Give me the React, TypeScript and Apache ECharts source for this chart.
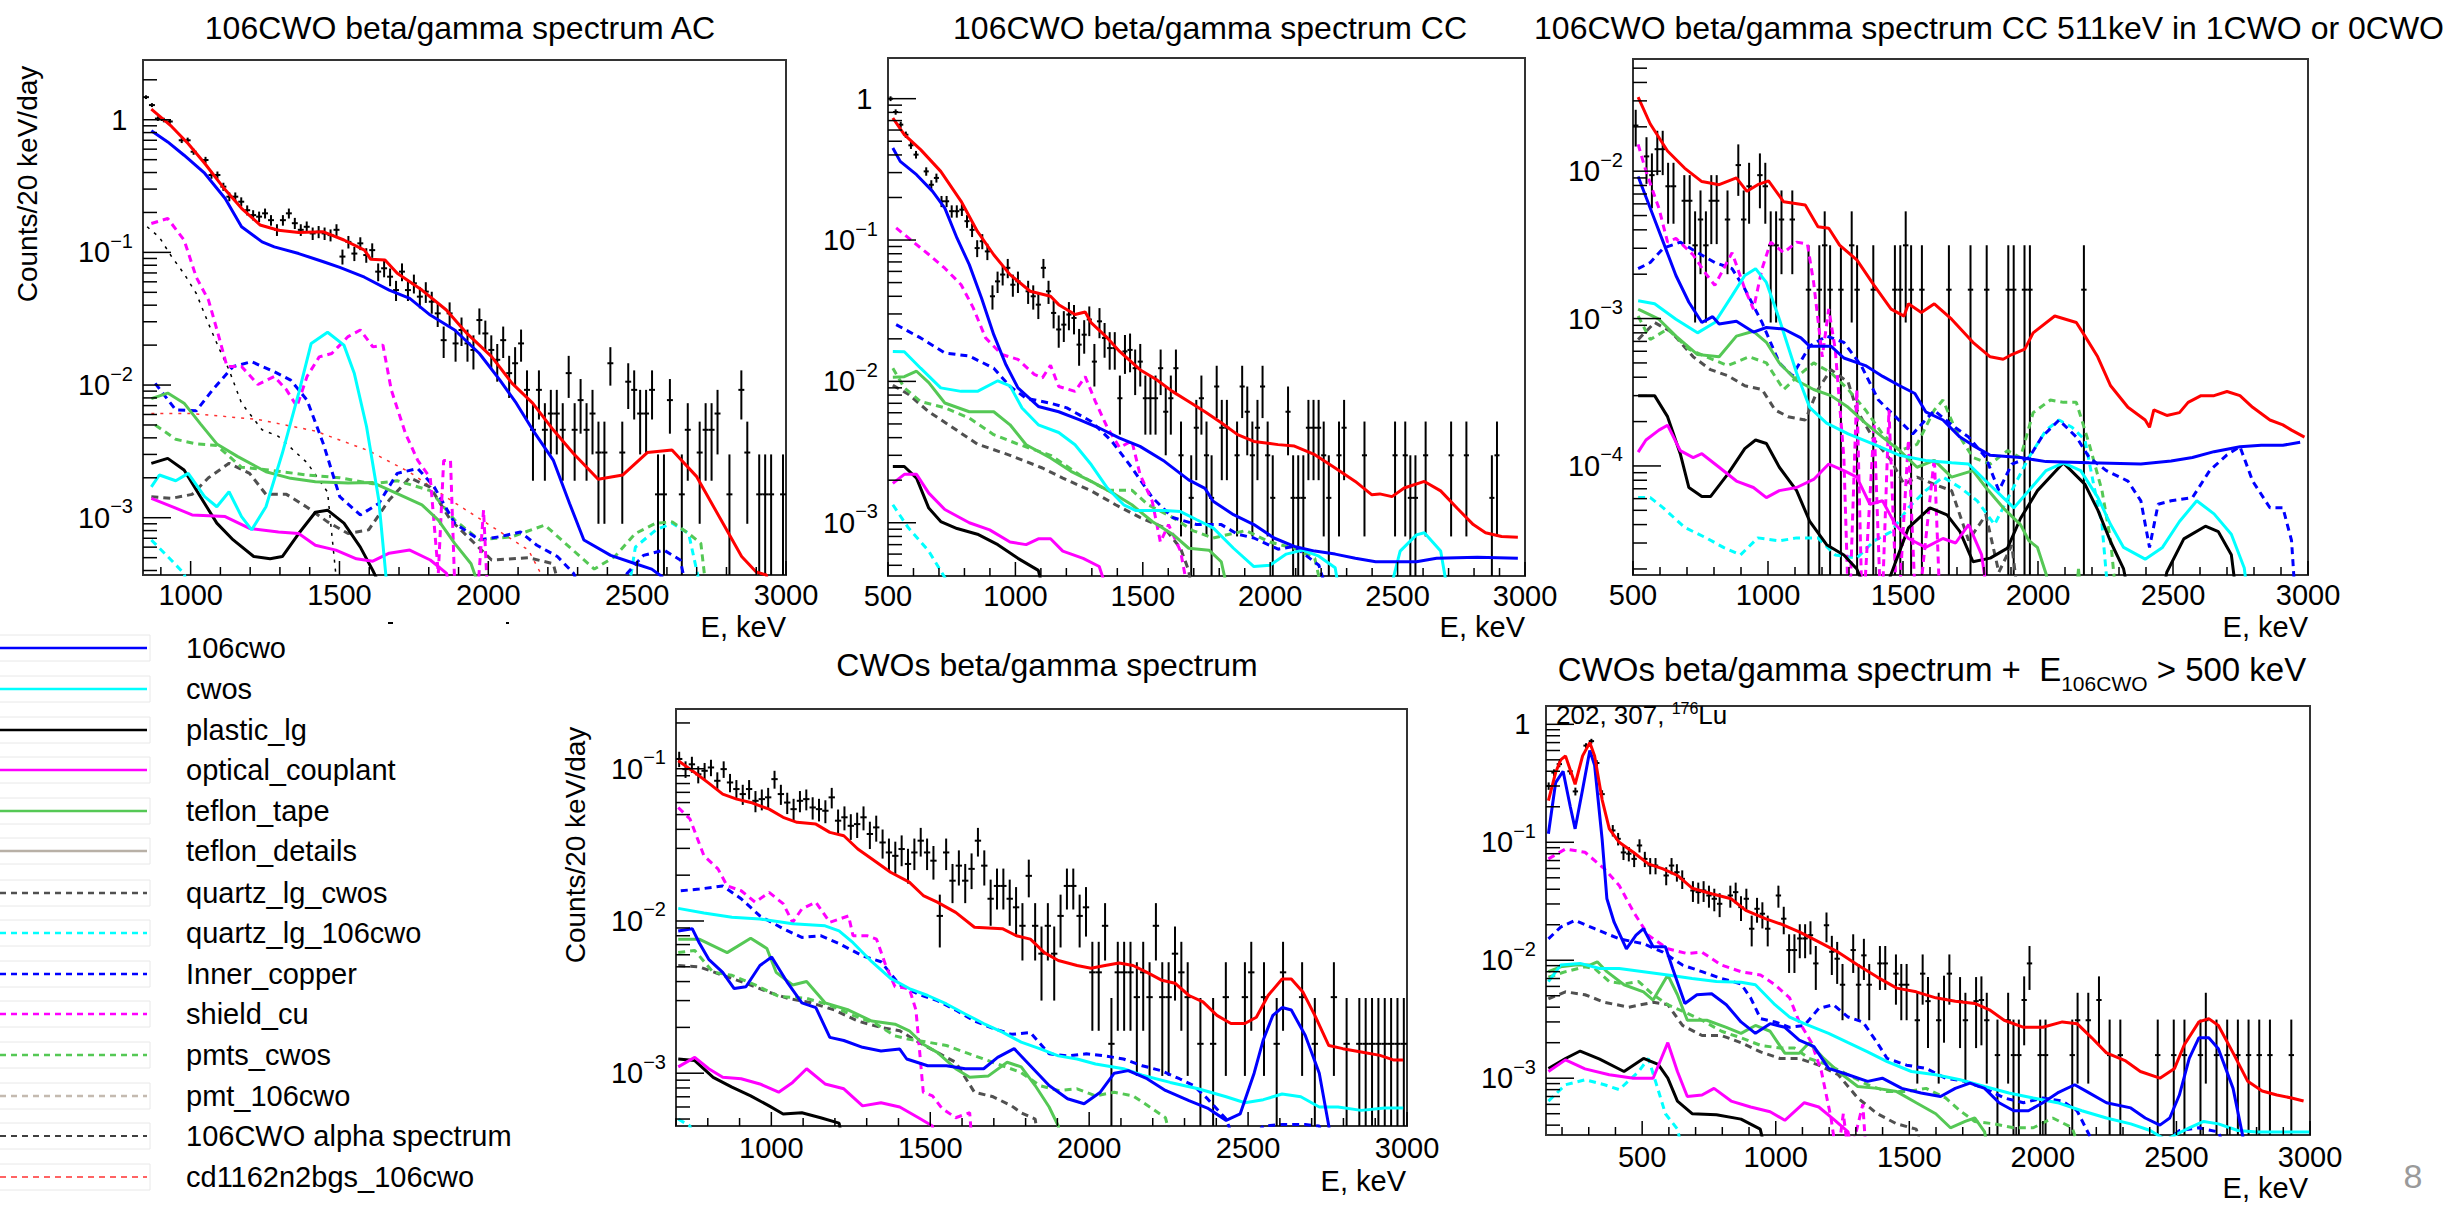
import React, { useEffect, useRef } from "react";
import * as echarts from "echarts";

const FONT = '"Liberation Sans", Arial, Helvetica, sans-serif';

// ================= Panel 1: 106CWO beta/gamma spectrum AC =================
const p1Points = [[850,1.48,0.048],[870,1.29,0.044],[890,1.02,0.04],[910,0.995,0.039],[930,0.97,0.039],[970,0.70,0.033],[990,0.70,0.033],[1010,0.574,0.03],[1050,0.497,0.028],[1070,0.383,0.024],[1090,0.383,0.024],[1110,0.313,0.022],[1130,0.263,0.02],[1150,0.263,0.02],[1170,0.241,0.019],[1190,0.208,0.018],[1210,0.191,0.017],[1230,0.186,0.017],[1250,0.197,0.017],[1270,0.175,0.016],[1290,0.148,0.015],[1310,0.175,0.016],[1330,0.197,0.017],[1350,0.166,0.016],[1370,0.148,0.015],[1390,0.156,0.015],[1410,0.139,0.015],[1430,0.143,0.015],[1450,0.139,0.015],[1470,0.135,0.014],[1490,0.148,0.015],[1510,0.093,0.012],[1530,0.12,0.013],[1550,0.098,0.012],[1570,0.117,0.013],[1590,0.0955,0.012],[1610,0.104,0.013],[1630,0.0716,0.011],[1650,0.0759,0.011],[1670,0.0656,0.01],[1690,0.052,0.009],[1710,0.0716,0.011],[1730,0.052,0.009],[1750,0.0585,0.0095],[1770,0.0464,0.0085],[1790,0.0506,0.009],[1810,0.0425,0.008],[1830,0.0347,0.0073],[1850,0.0218,0.0058],[1870,0.0347,0.0073],[1890,0.0206,0.0056],[1910,0.026,0.0063],[1930,0.0206,0.0056],[1950,0.0184,0.0053],[1970,0.0309,0.0069],[1990,0.0245,0.0061],[2010,0.0184,0.0053],[2030,0.0155,0.0049],[2050,0.0218,0.0058],[2070,0.0123,0.0043],[2090,0.0146,0.0047],[2110,0.0206,0.0056],[2130,0.0092,0.0037],[2150,0.0046,0.0027],[2170,0.0092,0.0037],[2190,0.0046,0.0027],[2210,0.0061,0.0031],[2230,0.0061,0.0031],[2250,0.0046,0.0027],[2270,0.0123,0.0043],[2290,0.0046,0.0027],[2310,0.0077,0.0034],[2330,0.0046,0.0027],[2350,0.0061,0.0031],[2370,0.0031,0.0022],[2390,0.0031,0.0022],[2410,0.0146,0.0047],[2450,0.0031,0.0022],[2470,0.0106,0.004],[2490,0.0092,0.0037],[2510,0.0061,0.0031],[2530,0.0061,0.0031],[2550,0.0092,0.0037],[2570,0.0015,0.0015],[2590,0.0015,0.0015],[2610,0.0077,0.0034],[2650,0.0015,0.0015],[2670,0.0046,0.0027],[2710,0.0031,0.0022],[2730,0.0046,0.0027],[2750,0.0046,0.0027],[2770,0.0061,0.0031],[2810,0.0015,0.0015],[2850,0.0092,0.0037],[2870,0.0031,0.0022],[2910,0.0015,0.0015],[2930,0.0015,0.0015],[2950,0.0015,0.0015],[2990,0.0015,0.0015]];
const p1Total = [[868,1.2],[936,0.89],[992,0.66],[1047,0.47],[1109,0.31],[1171,0.215],[1233,0.161],[1295,0.147],[1363,0.141],[1446,0.143],[1515,0.124],[1584,0.104],[1605,0.0887],[1653,0.0877],[1694,0.0695],[1777,0.052],[1859,0.0368],[1928,0.0245],[2011,0.0164],[2080,0.0103],[2149,0.0073],[2218,0.0046],[2286,0.00305],[2369,0.00195],[2452,0.0021],[2534,0.0031],[2617,0.00324],[2700,0.00204],[2782,0.00096],[2851,0.00051],[2900,0.00039],[2934,0.00037],[2960,0.0002]];
const p1C106 = [[868,0.825],[923,0.68],[978,0.54],[1047,0.395],[1116,0.255],[1171,0.156],[1240,0.12],[1281,0.11],[1363,0.098],[1446,0.085],[1501,0.077],[1584,0.065],[1667,0.052],[1736,0.045],[1805,0.0337],[1887,0.026],[1970,0.0173],[2039,0.0109],[2094,0.0073],[2149,0.0046],[2218,0.00272],[2273,0.00128],[2321,0.00068],[2411,0.00052],[2494,0.00045],[2549,0.00041],[2583,0.00036],[2620,0.0002]];
const p1Cwos = [[868,0.00171],[895,0.0021],[950,0.0019],[992,0.00216],[1047,0.00144],[1088,0.00121],[1129,0.00157],[1171,0.00102],[1205,0.00081],[1253,0.00121],[1308,0.00306],[1363,0.0087],[1405,0.0206],[1460,0.025],[1515,0.02],[1550,0.0122],[1591,0.00485],[1632,0.00136],[1667,0.0002]];
const p1Plastic = [[868,0.00257],[923,0.0028],[978,0.00229],[1033,0.00144],[1088,0.00091],[1143,0.00068],[1212,0.00051],[1267,0.00049],[1308,0.00051],[1363,0.00076],[1419,0.0011],[1460,0.00114],[1515,0.00091],[1570,0.0006],[1612,0.0004],[1639,0.0003],[1660,0.0002]];
const p1Optical = [[868,0.0014],[950,0.00118],[1005,0.00105],[1116,0.00102],[1198,0.00083],[1295,0.00078],[1363,0.00076],[1419,0.00062],[1488,0.00057],[1557,0.00049],[1612,0.00047],[1667,0.00054],[1736,0.00057],[1805,0.00048],[1860,0.00038],[1880,0.0002]];
const p1Teflon = [[868,0.0079],[923,0.0087],[978,0.0073],[1033,0.0051],[1088,0.0036],[1157,0.0029],[1253,0.00222],[1336,0.00198],[1419,0.00187],[1529,0.00183],[1612,0.00184],[1694,0.00152],[1777,0.00125],[1832,0.00096],[1887,0.00064],[1942,0.00045],[1997,0.0002]];
const p1Copper = [[881,0.0103],[950,0.0065],[1019,0.0064],[1074,0.0092],[1143,0.0138],[1205,0.015],[1281,0.0126],[1336,0.0109],[1391,0.0077],[1446,0.0036],[1501,0.00144],[1570,0.00105],[1632,0.00128],[1694,0.00216],[1763,0.00235],[1818,0.00171],[1887,0.00091],[1970,0.00068],[2039,0.00072],[2108,0.00078],[2163,0.00062],[2232,0.00051],[2287,0.00038],[2330,0.0002],[2430,0.0002],[2466,0.00038],[2521,0.00052],[2590,0.00057],[2645,0.00048],[2680,0.0002]];
const p1Shield = [[868,0.165],[923,0.18],[978,0.124],[1019,0.065],[1060,0.0437],[1095,0.0231],[1122,0.0138],[1171,0.0138],[1226,0.0101],[1281,0.0116],[1322,0.0092],[1357,0.0069],[1391,0.0116],[1432,0.0163],[1474,0.0173],[1529,0.0232],[1570,0.026],[1612,0.0194],[1646,0.02],[1674,0.0092],[1722,0.0043],[1763,0.0027],[1805,0.002],[1832,0.00038],[1850,0.0027],[1873,0.0027],[1890,0.0002],[1960,0.0002],[1984,0.00114],[2000,0.0002]];
const p1Pmts = [[881,0.005],[950,0.0039],[1019,0.0036],[1088,0.0035],[1171,0.0024],[1253,0.0023],[1391,0.0021],[1501,0.002],[1612,0.0018],[1694,0.0019],[1805,0.0016],[1887,0.00096],[1970,0.00068],[2080,0.00072],[2190,0.00088],[2273,0.0006],[2356,0.00041],[2425,0.00051],[2494,0.00076],[2563,0.00091],[2618,0.00093],[2673,0.00076],[2714,0.00064],[2740,0.0002]];
const p1QuartzC = [[868,0.00144],[936,0.0014],[1005,0.0015],[1060,0.002],[1129,0.00257],[1198,0.00216],[1253,0.0015],[1322,0.0015],[1391,0.0012],[1460,0.00093],[1529,0.00076],[1598,0.00081],[1667,0.00136],[1736,0.002],[1805,0.0017],[1873,0.00096],[1942,0.00068],[2011,0.00048],[2135,0.0005],[2218,0.00045],[2260,0.0002]];
const p1Quartz106 = [[868,0.00068],[923,0.00051],[978,0.00038],[1010,0.0002],[2460,0.0002],[2494,0.0006],[2563,0.00081],[2618,0.00091],[2673,0.00076],[2700,0.0004],[2730,0.0002]];
const p1Alpha = [[854,0.156],[895,0.13],[936,0.093],[978,0.069],[1019,0.049],[1060,0.029],[1095,0.019],[1129,0.013],[1171,0.0073],[1240,0.0046],[1295,0.0041],[1391,0.0026],[1460,0.00156],[1500,0.0002]];
const p1Cd = [[868,0.0061],[1005,0.0061],[1226,0.0055],[1419,0.0045],[1598,0.0032],[1736,0.0022],[1873,0.00136],[2011,0.00086],[2135,0.00057],[2200,0.0003]];

// ================= Panel 2: 106CWO beta/gamma spectrum CC =================
const p2Points = [[510,1.0,0.039],[530,0.805,0.035],[550,0.655,0.032],[570,0.556,0.029],[590,0.468,0.027],[610,0.402,0.025],[650,0.306,0.021],[670,0.246,0.019],[690,0.275,0.02],[710,0.188,0.017],[730,0.188,0.017],[750,0.16,0.016],[770,0.16,0.016],[790,0.164,0.016],[810,0.136,0.014],[830,0.118,0.013],[850,0.0877,0.012],[870,0.0981,0.012],[890,0.0831,0.011],[910,0.040,0.0078],[930,0.051,0.0088],[950,0.057,0.0093],[970,0.0636,0.0099],[990,0.0483,0.0086],[1010,0.051,0.0088],[1050,0.0434,0.0081],[1070,0.040,0.0078],[1090,0.0349,0.0073],[1110,0.0636,0.0099],[1130,0.0434,0.0081],[1150,0.0305,0.0068],[1170,0.0233,0.006],[1190,0.0252,0.0062],[1210,0.0297,0.0067],[1230,0.0281,0.0066],[1250,0.0182,0.0053],[1270,0.0214,0.0057],[1290,0.0274,0.0065],[1310,0.0138,0.0046],[1330,0.0266,0.0064],[1350,0.0203,0.0056],[1370,0.0172,0.0051],[1390,0.0172,0.0051],[1410,0.0076,0.0034],[1430,0.0163,0.005],[1450,0.0167,0.0051],[1470,0.0124,0.0044],[1490,0.0138,0.0046],[1510,0.0076,0.0034],[1530,0.0076,0.0034],[1550,0.0076,0.0034],[1570,0.0124,0.0044],[1590,0.0061,0.0031],[1610,0.0076,0.0034],[1630,0.0124,0.0044],[1650,0.003,0.0022],[1690,0.0015,0.0015],[1710,0.0047,0.0027],[1730,0.0076,0.0034],[1750,0.003,0.0022],[1770,0.0015,0.0015],[1790,0.0092,0.0037],[1810,0.0047,0.0027],[1830,0.0047,0.0027],[1870,0.003,0.0022],[1890,0.0092,0.0037],[1910,0.0061,0.0031],[1930,0.003,0.0022],[1950,0.0047,0.0027],[1970,0.0092,0.0037],[1990,0.003,0.0022],[2010,0.0015,0.0015],[2070,0.0061,0.0031],[2090,0.0015,0.0015],[2110,0.0015,0.0015],[2130,0.0015,0.0015],[2150,0.0047,0.0027],[2170,0.0047,0.0027],[2190,0.0047,0.0027],[2210,0.003,0.0022],[2230,0.0015,0.0015],[2270,0.003,0.0022],[2290,0.0047,0.0027],[2370,0.003,0.0022],[2490,0.003,0.0022],[2530,0.003,0.0022],[2550,0.0015,0.0015],[2570,0.0015,0.0015],[2610,0.003,0.0022],[2710,0.003,0.0022],[2770,0.003,0.0022],[2870,0.0015,0.0015],[2890,0.003,0.0022]];
const p2Total = [[519,0.73],[564,0.556],[628,0.436],[707,0.306],[787,0.188],[851,0.115],[915,0.0787],[979,0.0569],[1058,0.0434],[1138,0.040],[1170,0.0349],[1234,0.0297],[1274,0.031],[1298,0.0259],[1361,0.0203],[1409,0.0163],[1489,0.0121],[1553,0.0103],[1616,0.0085],[1680,0.0072],[1744,0.0061],[1808,0.0051],[1872,0.0042],[1936,0.00376],[2031,0.00357],[2095,0.00349],[2175,0.00303],[2255,0.00244],[2334,0.00196],[2398,0.00158],[2430,0.0016],[2478,0.00153],[2526,0.00176],[2605,0.00196],[2669,0.00168],[2733,0.00127],[2797,0.00097],[2845,0.00085],[2908,0.0008],[2972,0.00079]];
const p2C106 = [[519,0.448],[548,0.36],[612,0.29],[675,0.221],[723,0.168],[771,0.103],[819,0.067],[867,0.0389],[915,0.0214],[963,0.0131],[1010,0.009],[1090,0.00665],[1170,0.0061],[1250,0.00536],[1329,0.00468],[1409,0.00397],[1489,0.00347],[1585,0.00272],[1680,0.00201],[1744,0.00175],[1776,0.00142],[1856,0.00114],[1936,0.00097],[2015,0.00078],[2095,0.00068],[2175,0.00063],[2255,0.0006],[2334,0.00056],[2414,0.00053],[2574,0.00053],[2653,0.00056],[2813,0.00057],[2972,0.00056]];
const p2Cwos = [[519,0.0163],[564,0.0162],[628,0.0124],[707,0.009],[787,0.0085],[851,0.0085],[931,0.0101],[979,0.0093],[1026,0.00648],[1090,0.00493],[1170,0.00435],[1234,0.00356],[1298,0.00257],[1361,0.00176],[1425,0.00134],[1473,0.00122],[1585,0.00122],[1648,0.0012],[1712,0.00105],[1776,0.00092],[1856,0.00066],[1936,0.00049],[1999,0.0005],[2063,0.0006],[2127,0.00064],[2191,0.00058],[2255,0.00048],[2290,0.0002],[2440,0.0002],[2510,0.00063],[2574,0.00082],[2605,0.00085],[2669,0.00063],[2717,0.0002]];
const p2Plastic = [[519,0.0025],[564,0.0025],[612,0.00207],[660,0.00127],[707,0.00102],[771,0.00091],[851,0.00083],[931,0.0007],[1010,0.00056],[1090,0.00046],[1140,0.0002]];
const p2Optical = [[519,0.0019],[564,0.0022],[612,0.0022],[660,0.00162],[723,0.00124],[819,0.001],[899,0.00089],[979,0.00073],[1042,0.0007],[1090,0.00077],[1138,0.00077],[1186,0.00063],[1266,0.00056],[1329,0.00049],[1400,0.0002]];
const p2Teflon = [[519,0.0107],[564,0.0108],[612,0.0118],[660,0.0098],[723,0.00703],[819,0.0061],[915,0.0061],[979,0.00493],[1042,0.00356],[1138,0.00287],[1218,0.00231],[1298,0.00196],[1393,0.00158],[1457,0.00134],[1537,0.00102],[1617,0.00083],[1680,0.00066],[1760,0.00064],[1808,0.00053],[1860,0.0002]];
const p2Copper = [[532,0.0252],[628,0.0203],[723,0.0159],[819,0.0151],[915,0.0124],[979,0.0092],[1042,0.0076],[1138,0.007],[1202,0.0065],[1298,0.0052],[1377,0.0038],[1457,0.00245],[1537,0.00151],[1617,0.00109],[1712,0.00097],[1808,0.00097],[1872,0.00083],[1936,0.00078],[2031,0.00065],[2095,0.00068],[2191,0.0005],[2260,0.0002]];
const p2Shield = [[532,0.122],[596,0.098],[660,0.079],[723,0.0632],[787,0.0483],[835,0.033],[883,0.0203],[947,0.0155],[1010,0.0143],[1074,0.0112],[1106,0.0106],[1138,0.013],[1170,0.0092],[1234,0.0085],[1274,0.0108],[1314,0.0072],[1361,0.0047],[1409,0.0034],[1457,0.0038],[1489,0.0022],[1537,0.00142],[1569,0.00073],[1601,0.00097],[1648,0.00063],[1700,0.0002]];
const p2Pmts = [[519,0.0124],[564,0.009],[628,0.0072],[723,0.0065],[819,0.0055],[915,0.0042],[1010,0.0036],[1138,0.003],[1266,0.0021],[1361,0.0017],[1457,0.0017],[1521,0.00134],[1617,0.00109],[1696,0.00088],[1776,0.00078],[1904,0.00088],[1999,0.00073],[2095,0.00066],[2175,0.00056],[2230,0.0002]];
const p2QuartzC = [[519,0.0094],[580,0.0081],[660,0.0061],[755,0.0047],[851,0.0036],[979,0.003],[1106,0.00244],[1186,0.00207],[1298,0.00168],[1393,0.00134],[1489,0.00109],[1585,0.00092],[1648,0.00066],[1680,0.00046],[1710,0.0002]];
const p2Quartz106 = [[519,0.00134],[580,0.00092],[660,0.00063],[723,0.00041],[760,0.0002]];

// ======== Panel 3: 106CWO beta/gamma spectrum CC 511keV in 1CWO or 0CWO ========
const p3Points = [[510,0.0204,0.0057],[550,0.0126,0.0044],[570,0.0094,0.0038],[590,0.0141,0.0047],[610,0.0141,0.0047],[630,0.0079,0.0035],[650,0.0079,0.0035],[690,0.0063,0.0031],[710,0.0063,0.0031],[730,0.00314,0.0022],[750,0.0047,0.0027],[770,0.00314,0.0022],[790,0.0063,0.0031],[810,0.0063,0.0031],[850,0.0047,0.0027],[890,0.011,0.0042],[910,0.0047,0.0027],[930,0.0079,0.0035],[970,0.0094,0.0038],[990,0.0079,0.0035],[1010,0.00314,0.0022],[1030,0.00314,0.0022],[1050,0.0047,0.0027],[1090,0.0047,0.0027],[1150,0.00157,0.00157],[1190,0.00157,0.00157],[1210,0.00314,0.0022],[1230,0.00157,0.00157],[1270,0.00157,0.00157],[1310,0.00314,0.0022],[1330,0.00157,0.00157],[1390,0.00157,0.00157],[1470,0.00157,0.00157],[1490,0.00157,0.00157],[1510,0.00314,0.0022],[1530,0.00157,0.00157],[1570,0.00157,0.00157],[1670,0.00157,0.00157],[1750,0.00157,0.00157],[1810,0.00157,0.00157],[1890,0.00157,0.00157],[1910,0.00157,0.00157],[1950,0.00157,0.00157],[1970,0.00157,0.00157],[2170,0.00157,0.00157]];
const p3Total = [[519,0.0318],[564,0.0209],[628,0.0137],[691,0.0105],[755,0.0085],[819,0.0081],[883,0.009],[922,0.0073],[962,0.0081],[1002,0.0086],[1058,0.0062],[1138,0.0059],[1185,0.0042],[1225,0.0041],[1265,0.00315],[1329,0.0025],[1393,0.00168],[1456,0.00116],[1504,0.00104],[1520,0.00126],[1568,0.0011],[1616,0.00126],[1680,0.00099],[1759,0.00069],[1823,0.00055],[1871,0.00053],[1903,0.00057],[1951,0.00062],[1982,0.0008],[2062,0.00104],[2142,0.00094],[2174,0.00076],[2221,0.00055],[2269,0.00035],[2333,0.00025],[2397,0.000205],[2413,0.000183],[2429,0.00024],[2477,0.00022],[2524,0.00023],[2556,0.00027],[2604,0.0003],[2652,0.0003],[2700,0.00032],[2748,0.0003],[2795,0.00025],[2859,0.000205],[2907,0.00019],[2939,0.000175],[2987,0.000157]];
const p3C106 = [[519,0.0092],[564,0.0056],[612,0.0033],[659,0.00196],[707,0.00129],[755,0.00094],[795,0.00103],[819,0.00092],[883,0.00096],[946,0.00081],[994,0.00087],[1058,0.00085],[1122,0.00074],[1154,0.00065],[1233,0.00065],[1281,0.00054],[1361,0.00048],[1425,0.000405],[1488,0.00035],[1544,0.00031],[1584,0.000233],[1648,0.000205],[1711,0.000157],[1759,0.000138],[1823,0.000118],[1935,0.000114],[2030,0.000107],[2190,0.000105],[2381,0.000103],[2493,0.000108],[2572,0.000114],[2652,0.000125],[2748,0.000135],[2827,0.000138],[2907,0.000138],[2971,0.000145]];
const p3Cwos = [[519,0.00132],[580,0.00126],[659,0.00099],[739,0.0008],[803,0.00094],[867,0.00143],[914,0.00196],[954,0.00218],[994,0.00176],[1042,0.00099],[1106,0.000427],[1154,0.00025],[1217,0.000195],[1297,0.000165],[1393,0.00014],[1488,0.000118],[1584,0.000109],[1680,0.000105],[1743,0.000103],[1807,0.000079],[1871,0.000061],[1911,0.000052],[1966,0.000068],[2030,0.000093],[2094,0.000105],[2158,0.000093],[2222,0.000061],[2269,0.00004],[2317,0.000028],[2397,0.0000233],[2461,0.000028],[2524,0.000042],[2588,0.000058],[2652,0.0000473],[2716,0.0000344],[2764,0.0000203],[2790,0.000008]];
const p3Plastic = [[519,0.0003],[580,0.0003],[628,0.000216],[675,0.000121],[707,0.0000714],[755,0.000062],[787,0.000062],[851,0.000088],[914,0.000131],[954,0.00015],[994,0.000142],[1042,0.000098],[1106,0.000068],[1154,0.0000423],[1217,0.0000292],[1281,0.0000249],[1329,0.00002],[1380,0.000012],[1420,0.000012],[1456,0.0000185],[1520,0.000038],[1600,0.000052],[1663,0.0000466],[1711,0.0000358],[1759,0.0000224],[1823,0.0000237],[1887,0.0000277],[1935,0.000044],[1998,0.000068],[2094,0.000105],[2174,0.000075],[2222,0.00005],[2269,0.0000306],[2317,0.00002],[2360,0.000008],[2440,0.000008],[2477,0.000019],[2540,0.000032],[2620,0.000039],[2668,0.0000358],[2716,0.000025],[2750,0.000008]];
const p3Optical = [[519,0.000124],[548,0.00015],[596,0.000175],[628,0.000189],[675,0.000127],[723,0.000114],[755,0.000121],[819,0.000098],[883,0.000079],[946,0.0000714],[994,0.000061],[1042,0.000068],[1106,0.0000714],[1169,0.000081],[1225,0.000103],[1281,0.000093],[1329,0.000084],[1377,0.000055],[1424,0.000058],[1472,0.00004],[1520,0.0000322],[1584,0.000028],[1648,0.0000322],[1695,0.00003],[1743,0.00004],[1791,0.000025],[1830,0.000008]];
const p3Teflon = [[519,0.00116],[596,0.00099],[659,0.00076],[739,0.00057],[819,0.00055],[883,0.00076],[946,0.00082],[994,0.00069],[1042,0.0005],[1106,0.00038],[1169,0.00033],[1233,0.0003],[1297,0.00025],[1361,0.000195],[1424,0.000157],[1488,0.000127],[1552,0.000098],[1616,0.000109],[1680,0.000084],[1759,0.000093],[1807,0.0000714],[1871,0.000052],[1935,0.00004],[1966,0.0000312],[1998,0.000028],[2030,0.0000185],[2060,0.000008],[2130,0.000008],[2150,0.00002],[2170,0.000008]];
const p3Copper = [[519,0.00218],[564,0.0024],[612,0.003],[675,0.0033],[739,0.0028],[803,0.0024],[867,0.00218],[914,0.00159],[978,0.00094],[1042,0.0005],[1090,0.00041],[1154,0.00065],[1217,0.00076],[1281,0.00069],[1345,0.00048],[1409,0.00028],[1472,0.000216],[1536,0.000165],[1616,0.000238],[1680,0.00019],[1743,0.000157],[1807,0.000114],[1855,0.000068],[1903,0.000103],[1967,0.000114],[2014,0.000157],[2078,0.000205],[2142,0.000157],[2190,0.000114],[2253,0.000093],[2333,0.000079],[2381,0.000058],[2413,0.000028],[2445,0.000055],[2493,0.000058],[2572,0.000061],[2636,0.000093],[2700,0.000119],[2748,0.000135],[2795,0.000079],[2859,0.000052],[2907,0.000052],[2939,0.0000312],[2960,0.000008]];
const p3Shield = [[519,0.0152],[548,0.01],[596,0.0056],[628,0.0033],[659,0.0035],[723,0.0027],[771,0.002],[803,0.00168],[867,0.0028],[914,0.00159],[946,0.00116],[978,0.00218],[1010,0.0033],[1058,0.0028],[1106,0.0033],[1146,0.0032],[1169,0.00176],[1201,0.00055],[1225,0.00116],[1249,0.00062],[1281,0.000114],[1300,0.000008],[1329,0.00033],[1350,0.000008],[1393,0.000195],[1420,0.000008],[1448,0.00024],[1480,0.000008],[1520,0.00015],[1550,0.000008],[1616,0.000114],[1640,0.000008]];
const p3Pmts = [[519,0.00104],[564,0.00072],[628,0.00085],[707,0.00062],[771,0.00055],[851,0.00048],[930,0.00055],[994,0.0005],[1058,0.00033],[1106,0.0004],[1169,0.0005],[1233,0.00043],[1297,0.00033],[1361,0.00024],[1424,0.000165],[1488,0.000127],[1552,0.00014],[1616,0.00024],[1648,0.00028],[1695,0.000175],[1759,0.000114],[1823,0.000103],[1887,0.000127],[1935,0.000114],[1982,0.00023],[2046,0.00028],[2094,0.00027],[2142,0.00027],[2190,0.00014],[2237,0.000068],[2269,0.0000312],[2300,0.000008]];
const p3QuartzC = [[519,0.00072],[580,0.00094],[643,0.00081],[723,0.00055],[787,0.00045],[851,0.00041],[914,0.00035],[978,0.00033],[1026,0.00024],[1074,0.000216],[1138,0.000205],[1185,0.00033],[1233,0.00045],[1297,0.00037],[1329,0.00024],[1393,0.00015],[1456,0.000109],[1504,0.000075],[1552,0.000084],[1616,0.000075],[1680,0.000068],[1743,0.0000312],[1807,0.0000466],[1855,0.000019],[1903,0.000029],[1940,0.000008]];
const p3Quartz106 = [[519,0.000061],[564,0.000061],[612,0.000052],[691,0.0000383],[771,0.0000325],[835,0.000028],[898,0.0000249],[962,0.0000325],[1042,0.000031],[1106,0.0000325],[1185,0.0000325],[1249,0.0000249],[1329,0.0000237],[1393,0.000031],[1456,0.0000358],[1520,0.000052],[1584,0.000068],[1648,0.000084],[1711,0.0000714],[1775,0.000058],[1839,0.00004],[1903,0.000068],[1966,0.000114],[2030,0.000175],[2078,0.000205],[2126,0.000183],[2174,0.00015],[2206,0.000075],[2237,0.00004],[2270,0.000008]];

// ================= Panel 4: CWOs beta/gamma spectrum =================
const p4Points = [[710,0.116,0.0134],[730,0.0995,0.0124],[750,0.107,0.0129],[770,0.092,0.0118],[790,0.097,0.0122],[810,0.102,0.0126],[830,0.0834,0.0114],[850,0.0995,0.0124],[870,0.0813,0.0112],[890,0.0736,0.0107],[910,0.0682,0.0103],[930,0.0736,0.0107],[950,0.0616,0.0098],[970,0.0632,0.0099],[990,0.0649,0.01],[1010,0.0855,0.0115],[1030,0.0682,0.0103],[1050,0.060,0.0096],[1070,0.0543,0.0092],[1090,0.0616,0.0098],[1110,0.0632,0.0099],[1130,0.0557,0.0093],[1150,0.0543,0.0092],[1170,0.053,0.0091],[1190,0.0649,0.01],[1210,0.0456,0.0084],[1230,0.048,0.0086],[1250,0.0422,0.0081],[1270,0.0433,0.0082],[1290,0.048,0.0086],[1310,0.0373,0.0076],[1330,0.0412,0.008],[1350,0.0328,0.0071],[1370,0.0282,0.0066],[1390,0.0268,0.0064],[1410,0.0297,0.0068],[1430,0.0237,0.0061],[1450,0.0282,0.0066],[1470,0.0337,0.0072],[1490,0.0282,0.0066],[1510,0.0249,0.0062],[1530,0.0108,0.0041],[1550,0.0282,0.0066],[1570,0.0184,0.0053],[1590,0.0231,0.006],[1610,0.0184,0.0053],[1630,0.022,0.0058],[1650,0.0337,0.0072],[1670,0.0231,0.006],[1690,0.014,0.0047],[1710,0.017,0.0051],[1730,0.017,0.0051],[1750,0.014,0.0047],[1770,0.0123,0.0044],[1790,0.0093,0.0038],[1810,0.0198,0.0055],[1830,0.0093,0.0038],[1850,0.0061,0.0031],[1870,0.0093,0.0038],[1890,0.0061,0.0031],[1910,0.0108,0.0041],[1930,0.017,0.0051],[1950,0.017,0.0051],[1970,0.0108,0.0041],[1990,0.0123,0.0044],[2010,0.0046,0.0027],[2030,0.0046,0.0027],[2050,0.0093,0.0038],[2070,0.00156,0.00156],[2090,0.0046,0.0027],[2110,0.0046,0.0027],[2130,0.0046,0.0027],[2150,0.00316,0.0022],[2170,0.0046,0.0027],[2190,0.00316,0.0022],[2210,0.0093,0.0038],[2230,0.00316,0.0022],[2250,0.00316,0.0022],[2270,0.0061,0.0031],[2290,0.0046,0.0027],[2310,0.00316,0.0022],[2350,0.00156,0.00156],[2390,0.00156,0.00156],[2430,0.00316,0.0022],[2490,0.00316,0.0022],[2510,0.0046,0.0027],[2550,0.00316,0.0022],[2590,0.00156,0.00156],[2610,0.0046,0.0027],[2670,0.00316,0.0022],[2710,0.00156,0.00156],[2770,0.00316,0.0022],[2810,0.00156,0.00156],[2850,0.00156,0.00156],[2870,0.00156,0.00156],[2890,0.00156,0.00156],[2910,0.00156,0.00156],[2930,0.00156,0.00156],[2950,0.00156,0.00156],[2970,0.00156,0.00156],[2990,0.00156,0.00156]];
const p4Total = [[707,0.113],[759,0.0946],[803,0.0805],[847,0.0682],[891,0.0632],[935,0.0601],[993,0.0543],[1037,0.048],[1081,0.0445],[1140,0.0433],[1184,0.0382],[1228,0.0363],[1272,0.0297],[1331,0.0243],[1375,0.0209],[1434,0.018],[1478,0.0147],[1522,0.0133],[1580,0.0114],[1639,0.0091],[1727,0.0089],[1771,0.008],[1815,0.0076],[1859,0.0062],[1903,0.0055],[1962,0.0051],[2006,0.0049],[2050,0.0051],[2094,0.0053],[2138,0.0051],[2182,0.0046],[2226,0.0041],[2270,0.0039],[2314,0.00324],[2358,0.00294],[2402,0.0024],[2446,0.00212],[2490,0.00212],[2526,0.00233],[2563,0.00324],[2607,0.00416],[2636,0.00416],[2673,0.0034],[2710,0.0024],[2754,0.00152],[2798,0.00145],[2856,0.00138],[2915,0.00131],[2959,0.00122],[2988,0.00122]];
const p4C106 = [[707,0.0086],[751,0.0089],[773,0.0072],[803,0.0056],[847,0.0046],[883,0.0036],[920,0.0037],[964,0.0051],[1001,0.0058],[1052,0.0039],[1096,0.0029],[1140,0.0027],[1184,0.00172],[1228,0.00164],[1287,0.00148],[1345,0.0014],[1404,0.00144],[1426,0.00124],[1492,0.00112],[1551,0.00112],[1610,0.00107],[1668,0.00107],[1712,0.00127],[1764,0.00145],[1815,0.00112],[1874,0.00083],[1932,0.00068],[1984,0.00063],[2035,0.00075],[2079,0.001],[2123,0.00104],[2182,0.00092],[2240,0.00077],[2314,0.00066],[2372,0.00059],[2431,0.00049],[2475,0.00054],[2519,0.001],[2548,0.00166],[2578,0.0024],[2607,0.0027],[2636,0.0026],[2680,0.00177],[2724,0.001],[2754,0.00045],[2775,0.0002]];
const p4Cwos = [[707,0.0121],[788,0.0113],[876,0.0106],[964,0.0103],[1067,0.0096],[1169,0.0093],[1213,0.0086],[1257,0.0072],[1316,0.0054],[1375,0.0042],[1434,0.0036],[1492,0.00324],[1551,0.00285],[1610,0.00245],[1668,0.00212],[1727,0.00186],[1786,0.0016],[1844,0.00145],[1903,0.0013],[1962,0.00124],[2020,0.00115],[2108,0.00107],[2167,0.00097],[2255,0.00087],[2343,0.00079],[2431,0.0007],[2490,0.00064],[2548,0.00067],[2607,0.00073],[2666,0.0007],[2724,0.0006],[2783,0.0006],[2856,0.00057],[2930,0.00059],[2988,0.00059]];
const p4Plastic = [[707,0.00124],[759,0.00121],[817,0.00094],[876,0.00081],[935,0.00071],[993,0.00061],[1037,0.00054],[1096,0.00055],[1155,0.00051],[1213,0.00047],[1250,0.0002]];
const p4Optical = [[707,0.0011],[759,0.00127],[803,0.00107],[847,0.00094],[905,0.00092],[964,0.00085],[1023,0.00075],[1067,0.00087],[1111,0.00107],[1169,0.00085],[1228,0.00079],[1287,0.00061],[1345,0.00064],[1404,0.0006],[1463,0.00051],[1507,0.00045],[1530,0.0002]];
const p4Teflon = [[707,0.0076],[773,0.0076],[861,0.0062],[935,0.0077],[986,0.0066],[1015,0.0046],[1067,0.0038],[1111,0.004],[1169,0.0029],[1243,0.0026],[1316,0.0022],[1389,0.0021],[1434,0.0019],[1478,0.00155],[1522,0.00137],[1580,0.00107],[1624,0.00094],[1683,0.00096],[1742,0.00118],[1786,0.0011],[1830,0.00083],[1874,0.0006],[1903,0.00045],[1920,0.0002]];
const p4Copper = [[715,0.0158],[773,0.0162],[847,0.017],[905,0.014],[964,0.0108],[1037,0.0089],[1096,0.0078],[1155,0.008],[1213,0.0071],[1287,0.0059],[1345,0.0054],[1404,0.0038],[1463,0.0033],[1522,0.003],[1580,0.0026],[1639,0.0022],[1698,0.00197],[1756,0.0018],[1815,0.00185],[1874,0.00134],[1932,0.0013],[1991,0.00134],[2050,0.0013],[2108,0.00124],[2167,0.00112],[2226,0.00104],[2284,0.00092],[2328,0.00083],[2372,0.00068],[2431,0.0005],[2470,0.0003],[2548,0.00045],[2607,0.00046],[2680,0.00046],[2724,0.00045],[2760,0.0002]];
const p4Shield = [[707,0.0557],[744,0.0468],[788,0.0268],[832,0.022],[861,0.017],[905,0.0158],[949,0.0133],[993,0.0154],[1037,0.013],[1067,0.0098],[1096,0.012],[1140,0.0133],[1184,0.0098],[1243,0.0108],[1257,0.008],[1301,0.008],[1331,0.0076],[1360,0.0051],[1389,0.0037],[1434,0.0036],[1455,0.0026],[1478,0.00075],[1507,0.00071],[1536,0.00059],[1580,0.00051],[1624,0.00055],[1640,0.0002]];
const p4Pmts = [[707,0.0062],[759,0.0064],[817,0.0046],[876,0.0044],[949,0.0038],[1023,0.0032],[1111,0.0031],[1184,0.0028],[1257,0.0024],[1331,0.0021],[1389,0.00176],[1434,0.00167],[1492,0.0016],[1551,0.00152],[1610,0.00137],[1668,0.00124],[1727,0.00112],[1786,0.00101],[1844,0.00083],[1903,0.00077],[1962,0.00079],[2020,0.00071],[2079,0.00075],[2138,0.00071],[2196,0.00059],[2240,0.00051],[2290,0.0002]];
const p4QuartzC = [[707,0.0051],[773,0.005],[847,0.0044],[920,0.0039],[993,0.0034],[1052,0.0031],[1125,0.0029],[1199,0.0026],[1272,0.0022],[1345,0.002],[1404,0.0019],[1463,0.0016],[1522,0.00137],[1580,0.00118],[1639,0.00075],[1698,0.0007],[1756,0.00061],[1786,0.00055],[1830,0.0005],[1860,0.0002]];
const p4Quartz106 = [[707,0.0005],[744,0.00045],[770,0.0002]];

// ============ Panel 5: CWOs beta/gamma spectrum + E106CWO > 500 keV ============
const p5Points = [[150,0.30,0.0217],[170,0.39,0.025],[190,0.46,0.027],[230,0.40,0.025],[250,0.27,0.0206],[290,0.66,0.032],[310,0.72,0.0336],[330,0.47,0.027],[350,0.256,0.02],[390,0.126,0.014],[410,0.107,0.013],[430,0.082,0.0113],[450,0.08,0.0112],[470,0.0723,0.0107],[490,0.094,0.012],[510,0.0723,0.0107],[530,0.0635,0.01],[550,0.0635,0.01],[590,0.0523,0.0091],[610,0.0635,0.01],[630,0.0558,0.0094],[650,0.049,0.0088],[690,0.039,0.0078],[710,0.0378,0.0077],[730,0.039,0.0078],[750,0.0354,0.0075],[770,0.0332,0.0072],[790,0.0301,0.0069],[830,0.0354,0.0075],[850,0.0378,0.0077],[870,0.0282,0.0067],[890,0.0332,0.0072],[910,0.0185,0.0054],[930,0.0273,0.0065],[950,0.0248,0.0062],[970,0.0185,0.0054],[1010,0.0354,0.0075],[1030,0.0225,0.0059],[1050,0.0122,0.0044],[1070,0.0122,0.0044],[1090,0.0153,0.0049],[1110,0.0153,0.0049],[1130,0.0163,0.0051],[1150,0.0094,0.0038],[1190,0.0198,0.0056],[1210,0.0118,0.0043],[1230,0.0103,0.004],[1250,0.0062,0.0031],[1290,0.0122,0.0044],[1310,0.0062,0.0031],[1330,0.011,0.0042],[1350,0.0062,0.0031],[1390,0.0094,0.0038],[1410,0.0094,0.0038],[1450,0.0077,0.0035],[1470,0.0062,0.0031],[1490,0.0062,0.0031],[1530,0.0031,0.0022],[1550,0.0077,0.0035],[1570,0.0045,0.0027],[1610,0.0031,0.0022],[1630,0.0047,0.0027],[1650,0.0077,0.0035],[1690,0.0045,0.0027],[1710,0.0031,0.0022],[1750,0.0045,0.0027],[1770,0.0046,0.0027],[1790,0.0031,0.0022],[1830,0.00157,0.00157],[1870,0.0031,0.0022],[1890,0.00157,0.00157],[1910,0.00157,0.00157],[1930,0.0046,0.0027],[1950,0.0094,0.0038],[1990,0.00157,0.00157],[2010,0.00157,0.00157],[2110,0.00157,0.00157],[2130,0.0031,0.0022],[2170,0.0031,0.0022],[2210,0.0046,0.0027],[2250,0.00157,0.00157],[2290,0.00157,0.00157],[2430,0.00157,0.00157],[2490,0.00157,0.00157],[2530,0.00157,0.00157],[2590,0.00157,0.00157],[2610,0.0031,0.0022],[2650,0.00157,0.00157],[2690,0.00157,0.00157],[2730,0.00157,0.00157],[2770,0.00157,0.00157],[2810,0.00157,0.00157],[2850,0.00157,0.00157],[2930,0.00157,0.00157]];
const p5Total = [[149,0.225],[176,0.39],[195,0.5],[213,0.54],[249,0.31],[277,0.54],[304,0.7],[322,0.54],[350,0.23],[377,0.13],[414,0.1],[468,0.082],[523,0.0656],[578,0.0595],[632,0.0523],[687,0.0408],[760,0.0366],[833,0.0332],[888,0.0265],[961,0.0225],[1016,0.0204],[1088,0.0174],[1161,0.0143],[1234,0.0117],[1307,0.0091],[1380,0.0072],[1453,0.0058],[1526,0.0054],[1599,0.0048],[1672,0.0045],[1745,0.0043],[1800,0.0038],[1855,0.0031],[1928,0.0027],[2000,0.0027],[2073,0.003],[2128,0.0029],[2183,0.0022],[2238,0.00164],[2310,0.0014],[2365,0.00114],[2438,0.001],[2493,0.00121],[2529,0.00191],[2584,0.003],[2621,0.0032],[2657,0.0028],[2712,0.00164],[2767,0.00094],[2821,0.00078],[2876,0.00072],[2931,0.00068],[2976,0.00064]];
const p5C106 = [[149,0.118],[176,0.32],[204,0.40],[231,0.2],[249,0.13],[277,0.28],[304,0.6],[322,0.45],[350,0.107],[368,0.0332],[395,0.021],[441,0.0125],[477,0.0163],[505,0.0185],[541,0.013],[587,0.013],[614,0.0085],[660,0.0043],[705,0.0051],[760,0.0052],[815,0.0042],[870,0.003],[924,0.0024],[979,0.0029],[1034,0.0027],[1088,0.0021],[1143,0.00185],[1198,0.00121],[1271,0.00107],[1344,0.00094],[1399,0.001],[1472,0.00082],[1544,0.00075],[1617,0.0007],[1672,0.00082],[1727,0.00091],[1782,0.00082],[1836,0.00062],[1891,0.00053],[1946,0.00053],[2000,0.00062],[2055,0.00075],[2119,0.00088],[2165,0.00077],[2238,0.00062],[2329,0.00056],[2383,0.00046],[2438,0.0004],[2475,0.00046],[2511,0.00072],[2548,0.00147],[2584,0.0022],[2621,0.0022],[2657,0.00178],[2712,0.00082],[2767,0.0002]];
const p5Cwos = [[149,0.0066],[195,0.0091],[268,0.0094],[341,0.0085],[414,0.0085],[505,0.008],[596,0.0075],[687,0.007],[778,0.0066],[870,0.0065],[924,0.0062],[997,0.0042],[1052,0.0033],[1107,0.0029],[1198,0.0024],[1271,0.002],[1344,0.00167],[1417,0.00138],[1508,0.00114],[1599,0.00107],[1690,0.00097],[1782,0.00085],[1873,0.00075],[1964,0.00068],[2055,0.00062],[2146,0.00053],[2238,0.00046],[2329,0.00041],[2402,0.00036],[2460,0.0003],[2548,0.00038],[2602,0.00043],[2657,0.00041],[2730,0.00036],[2800,0.00035],[3000,0.00035]];
const p5Plastic = [[149,0.00121],[213,0.00147],[268,0.0017],[341,0.00145],[432,0.00114],[505,0.00147],[560,0.00131],[596,0.001],[632,0.00064],[687,0.0005],[778,0.00049],[870,0.00045],[942,0.00037],[970,0.0002]];
const p5Optical = [[149,0.00114],[213,0.00143],[286,0.0012],[377,0.00107],[468,0.001],[541,0.001],[596,0.002],[632,0.00114],[669,0.0007],[724,0.00072],[769,0.00082],[833,0.00064],[906,0.00057],[979,0.00052],[1034,0.00044],[1107,0.00062],[1161,0.00057],[1216,0.00045],[1271,0.00035],[1290,0.0002]];
const p5Teflon = [[149,0.008],[195,0.0088],[249,0.0091],[304,0.0091],[332,0.0097],[368,0.008],[432,0.0062],[505,0.0054],[541,0.0046],[596,0.0075],[632,0.0051],[669,0.0031],[742,0.0031],[815,0.0027],[870,0.0024],[924,0.0028],[979,0.0025],[1034,0.00163],[1088,0.00163],[1125,0.002],[1180,0.00147],[1234,0.00114],[1307,0.00085],[1380,0.00082],[1453,0.00077],[1526,0.00062],[1599,0.0005],[1654,0.00038],[1709,0.00043],[1745,0.00046],[1782,0.00035],[1800,0.0002]];
const p5Copper = [[149,0.0152],[195,0.0191],[249,0.0218],[322,0.0185],[414,0.0152],[505,0.0138],[578,0.0117],[651,0.0091],[724,0.008],[797,0.007],[870,0.0063],[906,0.0048],[943,0.0032],[997,0.003],[1052,0.0027],[1107,0.0028],[1161,0.0039],[1216,0.0042],[1271,0.0033],[1326,0.003],[1380,0.002],[1417,0.00147],[1490,0.00129],[1563,0.00121],[1636,0.001],[1709,0.00094],[1782,0.00082],[1855,0.00068],[1928,0.00062],[2000,0.00068],[2073,0.00064],[2128,0.00053],[2183,0.0003],[2470,0.0003],[2511,0.00036],[2584,0.00038],[2657,0.00035],[2700,0.0002]];
const p5Shield = [[149,0.0723],[213,0.0878],[286,0.0823],[359,0.0595],[414,0.0431],[468,0.0256],[523,0.0163],[596,0.0125],[669,0.0114],[724,0.0117],[797,0.0091],[870,0.008],[943,0.0075],[997,0.0062],[1052,0.0048],[1088,0.003],[1134,0.002],[1171,0.00114],[1207,0.00046],[1230,0.0002],[1253,0.0005],[1275,0.0002],[1326,0.0006],[1340,0.0002]];
const p5Pmts = [[149,0.0072],[213,0.008],[286,0.0088],[322,0.0085],[377,0.0066],[432,0.0063],[487,0.0066],[541,0.0051],[596,0.0042],[651,0.0037],[724,0.0031],[797,0.0025],[870,0.0022],[943,0.0019],[1016,0.0018],[1070,0.0018],[1125,0.00147],[1198,0.00129],[1271,0.00107],[1344,0.00088],[1417,0.00077],[1490,0.00077],[1563,0.00082],[1636,0.00068],[1690,0.00053],[1745,0.00043],[1818,0.00041],[1891,0.00038],[1964,0.00038],[2037,0.00046],[2110,0.00038],[2150,0.0002]];
const p5QuartzC = [[149,0.0047],[213,0.0054],[286,0.0051],[359,0.0044],[450,0.004],[541,0.0044],[596,0.0042],[651,0.0028],[724,0.0023],[797,0.0023],[870,0.002],[943,0.00167],[1016,0.00147],[1088,0.00147],[1161,0.00129],[1234,0.00107],[1307,0.00068],[1380,0.0005],[1453,0.00041],[1526,0.00037],[1560,0.0002]];
const p5Quartz106 = [[149,0.00064],[213,0.00088],[286,0.00097],[359,0.00088],[414,0.0008],[487,0.00114],[523,0.00147],[550,0.00094],[587,0.0005],[632,0.00037],[660,0.0002]];

// ================= Legend =================
const legendNames = ["106cwo","cwos","plastic_lg","optical_couplant","teflon_tape","teflon_details","quartz_lg_cwos","quartz_lg_106cwo","Inner_copper","shield_cu","pmts_cwos","pmt_106cwo","106CWO alpha spectrum","cd1162n2bgs_106cwo"];
const legendKeys = ["c106","cwos","plastic","optical","teflon","tdet","quartzC","quartz106","copper","shield","pmts","pmt106","alpha","cd"];

const DASH = [7, 5];
const STYLE: Record<string, any> = {
  total: { color: "#ff0000", width: 3 },
  c106: { color: "#0000ff", width: 3 },
  cwos: { color: "#00ffff", width: 3 },
  plastic: { color: "#000000", width: 3 },
  optical: { color: "#ff00ff", width: 3 },
  teflon: { color: "#55c855", width: 3 },
  tdet: { color: "#b8b0a6", width: 3 },
  quartzC: { color: "#505050", width: 3, dash: DASH },
  quartz106: { color: "#00ffff", width: 3, dash: DASH },
  copper: { color: "#0000ff", width: 3, dash: DASH },
  shield: { color: "#ff00ff", width: 3, dash: DASH },
  pmts: { color: "#55c855", width: 3, dash: DASH },
  pmt106: { color: "#c4bab0", width: 3, dash: DASH },
  alpha: { color: "#000000", width: 1.5, dash: [3, 6] },
  cd: { color: "#ff3030", width: 1.5, dash: [3, 6] },
};

const PANELS = [
  { grid: { left: 143, top: 60, width: 643, height: 515 }, x: [840, 3000], y: [3.7e-4, 2.82],
    title: "106CWO beta/gamma spectrum AC", tx: 460, ty: 28, lm: 5, points: p1Points,
    lines: [["alpha", p1Alpha], ["cd", p1Cd], ["quartzC", p1QuartzC], ["quartz106", p1Quartz106], ["pmts", p1Pmts], ["copper", p1Copper], ["shield", p1Shield], ["plastic", p1Plastic], ["optical", p1Optical], ["teflon", p1Teflon], ["cwos", p1Cwos], ["c106", p1C106], ["total", p1Total]] },
  { grid: { left: 888, top: 58, width: 637, height: 518 }, x: [500, 3000], y: [4.2e-4, 1.94],
    title: "106CWO beta/gamma spectrum CC", tx: 1210, ty: 28, lm: 5, points: p2Points,
    lines: [["quartzC", p2QuartzC], ["quartz106", p2Quartz106], ["pmts", p2Pmts], ["copper", p2Copper], ["shield", p2Shield], ["plastic", p2Plastic], ["optical", p2Optical], ["teflon", p2Teflon], ["cwos", p2Cwos], ["c106", p2C106], ["total", p2Total]] },
  { grid: { left: 1633, top: 59, width: 675, height: 516 }, x: [500, 3000], y: [1.82e-5, 0.0577],
    title: "106CWO beta/gamma spectrum CC 511keV in 1CWO or 0CWO", tx: 1989, ty: 28, lm: 5, points: p3Points,
    lines: [["quartzC", p3QuartzC], ["quartz106", p3Quartz106], ["pmts", p3Pmts], ["copper", p3Copper], ["shield", p3Shield], ["plastic", p3Plastic], ["optical", p3Optical], ["teflon", p3Teflon], ["cwos", p3Cwos], ["c106", p3C106], ["total", p3Total]] },
  { grid: { left: 676, top: 709, width: 731, height: 417 }, x: [700, 3000], y: [4.5e-4, 0.247],
    title: "CWOs beta/gamma spectrum", tx: 1047, ty: 665, lm: 7, points: p4Points,
    lines: [["quartzC", p4QuartzC], ["quartz106", p4Quartz106], ["pmts", p4Pmts], ["copper", p4Copper], ["shield", p4Shield], ["plastic", p4Plastic], ["optical", p4Optical], ["teflon", p4Teflon], ["cwos", p4Cwos], ["c106", p4C106], ["total", p4Total]] },
  { grid: { left: 1546, top: 706, width: 764, height: 429 }, x: [140, 3000], y: [3.3e-4, 1.43],
    title: null, tx: 1932, ty: 672, lm: 7, points: p5Points,
    lines: [["quartzC", p5QuartzC], ["quartz106", p5Quartz106], ["pmts", p5Pmts], ["copper", p5Copper], ["shield", p5Shield], ["plastic", p5Plastic], ["optical", p5Optical], ["teflon", p5Teflon], ["cwos", p5Cwos], ["c106", p5C106], ["total", p5Total]] },
];

const X_NAMES = [[786, 627], [1525, 627], [2308, 627], [1406, 1181], [2308, 1188]];
const Y_NAMES = [[27, 184], [575, 845]];
const LEG_Y = [648, 689, 730, 770, 811, 851, 893, 933, 974, 1014, 1055, 1096, 1136, 1177];

function yLabel(v: number) {
  const l = Math.log10(v);
  const e = Math.round(l);
  if (Math.abs(l - e) > 1e-6) return "";
  if (e === 0) return "{b|1}{s| }";
  return "{b|10}{s|" + (e < 0 ? "\u2212" : "") + Math.abs(e) + "}";
}

function buildOption() {
  const grid: any[] = [], xAxis: any[] = [], yAxis: any[] = [], series: any[] = [];
  PANELS.forEach((p, i) => {
    grid.push({ ...p.grid, show: true, borderColor: "#333", borderWidth: 2, backgroundColor: "transparent", containLabel: false, outerBoundsMode: "none" });
    xAxis.push({
      type: "value", gridIndex: i, min: p.x[0], max: p.x[1], splitNumber: 5,
      ...(p.x[0] % 500 === 0 ? { interval: 500 } : {}),
      axisLine: { show: false }, axisTick: { show: false }, splitLine: { show: false },
      axisLabel: { show: true, margin: p.lm, color: "#000", fontSize: 29, fontFamily: FONT,
        formatter: (v: number) => (Math.abs(v % 500) < 1e-6 ? String(v) : "") },
    });
    yAxis.push({
      type: "log", logBase: 10, gridIndex: i, min: p.y[0], max: p.y[1],
      axisLine: { show: false }, axisTick: { show: false }, splitLine: { show: false },
      axisLabel: { show: true, margin: 10, formatter: yLabel, padding: [0, 0, 7, 0],
        rich: {
          b: { fontSize: 29, fontFamily: FONT, color: "#000", verticalAlign: "bottom" },
          s: { fontSize: 20, fontFamily: FONT, color: "#000", verticalAlign: "bottom", padding: [0, 0, 16, 0] },
        } },
    });
    const yMin = p.y[0], yMax = p.y[1];
    series.push({
      type: "custom", xAxisIndex: i, yAxisIndex: i, data: p.points, z: 2, silent: true, clip: true,
      renderItem: (params: any, api: any) => {
        const E = api.value(0), y = api.value(1), e = api.value(2);
        const c = api.coord([E, y]);
        const hi = api.coord([E, Math.min(y + e, yMax)]);
        const lo = api.coord([E, Math.max(y - e, yMin)]);
        const l = api.coord([E - 10, y]);
        const r = api.coord([E + 10, y]);
        const st = { stroke: "#000", lineWidth: 2 };
        return { type: "group", children: [
          { type: "line", shape: { x1: c[0], y1: hi[1], x2: c[0], y2: lo[1] }, style: st },
          { type: "line", shape: { x1: l[0], y1: c[1], x2: r[0], y2: c[1] }, style: st },
        ] };
      },
    });
    p.lines.forEach(([key, data]: any) => {
      const s = STYLE[key];
      series.push({
        type: "line", xAxisIndex: i, yAxisIndex: i, data, showSymbol: false, symbol: "none", silent: true,
        z: key === "total" ? 4 : 3, clip: true,
        lineStyle: { color: s.color, width: s.width, type: s.dash ? s.dash : "solid", cap: "butt" },
      });
    });
    // ROOT-style ticks
    const ticks: any[] = [];
    for (let v = Math.ceil(p.x[0] / 100) * 100; v <= p.x[1]; v += 100) ticks.push([v, yMin, v % 500 === 0 ? 0 : 1]);
    for (let k = Math.floor(Math.log10(yMin)); k <= Math.ceil(Math.log10(yMax)); k++) {
      for (let m = 1; m <= 9; m++) {
        const v = m * Math.pow(10, k);
        if (v >= yMin && v <= yMax) ticks.push([p.x[0], v, m === 1 ? 2 : 3]);
      }
    }
    series.push({
      type: "custom", xAxisIndex: i, yAxisIndex: i, data: ticks, z: 5, silent: true,
      renderItem: (params: any, api: any) => {
        const kind = api.value(2);
        const pt = api.coord([api.value(0), api.value(1)]);
        const st = { stroke: "#000", lineWidth: 1.5 };
        if (kind < 2) {
          const len = kind === 0 ? 14 : 8;
          return { type: "line", shape: { x1: pt[0], y1: pt[1], x2: pt[0], y2: pt[1] - len }, style: st };
        }
        const len = kind === 2 ? 28 : 14;
        return { type: "line", shape: { x1: pt[0], y1: pt[1], x2: pt[0] + len, y2: pt[1] }, style: st };
      },
    });
  });

  const gfx: any[] = [];
  const txt = (x: number, y: number, text: string, size: number, align = "center", extra: any = {}) => ({
    type: "text", x, y, ...extra,
    style: { text, font: `${size}px ${FONT}`, fill: "#000", textAlign: align, align, textVerticalAlign: "middle", verticalAlign: "middle" },
  });
  PANELS.forEach((p) => { if (p.title) gfx.push(txt(p.tx, p.ty, p.title, 32)); });
  gfx.push({
    type: "text", x: 1932, y: 673,
    style: {
      text: "{a|CWOs beta/gamma spectrum +  E}{b|106CWO}{a| > 500 keV}",
      textAlign: "center", align: "center", textVerticalAlign: "middle", verticalAlign: "middle",
      rich: {
        a: { fontSize: 33, fontFamily: FONT, fill: "#000", color: "#000", verticalAlign: "top" },
        b: { fontSize: 21, fontFamily: FONT, fill: "#000", color: "#000", verticalAlign: "top", padding: [20, 0, 0, 0] },
      },
    },
  });
  gfx.push({
    type: "text", x: 1556, y: 714,
    style: {
      text: "{a|202, 307, }{s|176}{a|Lu}",
      textAlign: "left", align: "left", textVerticalAlign: "middle", verticalAlign: "middle",
      rich: {
        a: { fontSize: 26, fontFamily: FONT, fill: "#000", color: "#000", verticalAlign: "bottom" },
        s: { fontSize: 16, fontFamily: FONT, fill: "#000", color: "#000", verticalAlign: "bottom", padding: [0, 0, 12, 0] },
      },
    },
  });
  X_NAMES.forEach(([x, y]) => gfx.push(txt(x, y, "E, keV", 29, "right")));
  Y_NAMES.forEach(([x, y]) => gfx.push(txt(x, y, "Counts/20 keV/day", 28, "center", { rotation: Math.PI / 2 })));
  // legend
  legendNames.forEach((name, i) => {
    const y = LEG_Y[i];
    const s = STYLE[legendKeys[i]];
    gfx.push({ type: "rect", shape: { x: -2, y: y - 13, width: 152, height: 26 }, style: { fill: "none", stroke: "#e8e8e8", lineWidth: 1 } });
    gfx.push({ type: "line", shape: { x1: 0, y1: y, x2: 147, y2: y }, style: { stroke: s.color, lineWidth: s.width === 3 ? 2.6 : 1.4, lineDash: s.dash ? [6, 5] : null } });
    gfx.push(txt(186, y, name, 29, "left"));
  });
  // page number and stray marks
  gfx.push({ type: "text", x: 2413, y: 1176, style: { text: "8", font: `34px ${FONT}`, fill: "#9a9a9a", textAlign: "center", align: "center", textVerticalAlign: "middle", verticalAlign: "middle" } });
  gfx.push({ type: "line", shape: { x1: 388, y1: 623, x2: 393, y2: 623 }, style: { stroke: "#000", lineWidth: 2 } });
  gfx.push({ type: "line", shape: { x1: 506, y1: 623, x2: 509, y2: 623 }, style: { stroke: "#000", lineWidth: 2 } });

  return { animation: false, backgroundColor: "#ffffff", grid, xAxis, yAxis, series, graphic: { elements: gfx } };
}

export default function App() {
  const ref = useRef<HTMLDivElement>(null);
  useEffect(() => {
    if (!ref.current) return;
    const chart = echarts.init(ref.current, null, { renderer: "svg" });
    chart.setOption(buildOption() as any);
    return () => chart.dispose();
  }, []);
  return <div ref={ref} style={{ position: "fixed", left: 0, top: 0, width: 2446, height: 1206, background: "#fff" }} />;
}
